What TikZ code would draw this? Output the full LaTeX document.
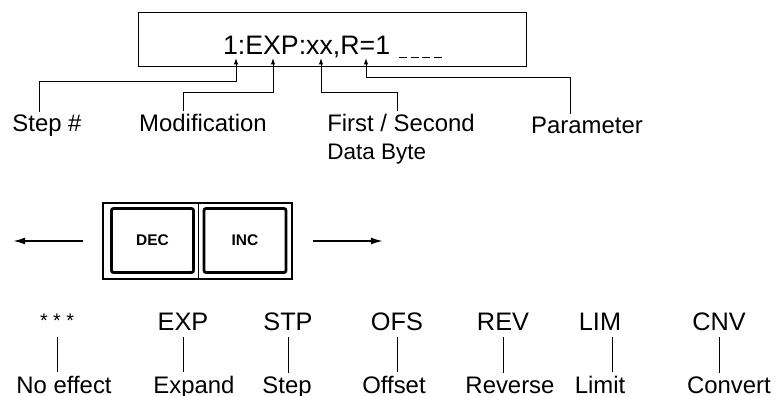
\documentclass[tikz,border=0pt]{standalone}
\usepackage{fontspec}
\setmainfont{Liberation Sans}
\usetikzlibrary{positioning,arrows.meta,calc}
\newcommand{\slotdash}{\rule[-0.12em]{0.3em}{0.06em}\hspace{0.13em}}

\begin{document}
\begin{tikzpicture}[x=0.025cm, y=0.025cm, line width=0.7pt,
  screen/.style={draw, line width=1pt, minimum width=9.7cm, minimum height=1.35cm, inner sep=0pt, text height=25pt, text depth=3pt, font=\fontsize{19}{22}\selectfont},
  lab/.style={anchor=base, inner sep=2pt, font=\fontsize{17}{20}\selectfont},
  key/.style={draw, line width=2pt, rounded corners=1.5pt, minimum width=2.05cm, minimum height=1.6cm, font=\bfseries\fontsize{11}{13}\selectfont},
  panel/.style={draw, line width=1.2pt, minimum width=4.73cm, minimum height=1.9cm},
  code/.style={anchor=base, inner xsep=2pt, inner ysep=4pt, font=\fontsize{18}{21}\selectfont},
  desc/.style={lab},
  arr/.style={-{Latex[length=1.6mm,width=1.1mm]}},
  bigarr/.style={-{Latex[length=3mm,width=1.7mm]}, line width=1.2pt}]
\useasboundingbox (0,0) rectangle (779,396);
% readout and its fields
\node[screen] (lcd) at (332.5,356.5) {1:EXP:xx,R=1\hspace{0.35em}\slotdash\slotdash\slotdash\slotdash};
\coordinate (tip1) at (236,338);
\coordinate (tip2) at (273,338);
\coordinate (tip3) at (321,338);
\coordinate (tip4) at (366,338);
\node[lab] (step) at (47,264) {Step \#};
\node[lab] (mod) at (203,264) {Modification};
\node[lab] (first) at (401,264) {First / Second};
\node[lab, font=\fontsize{16}{19}\selectfont, below=4pt of first.south west, anchor=north west] (byte) {Data Byte};
\node[lab] (param) at (587,262) {Parameter};
\draw[arr] ([xshift=-2mm]step.north) -- ++(0,31) -| (tip1);
\draw[arr] ([xshift=-5mm]mod.north) -- ++(0,19) -| (tip2);
\draw[arr] ([xshift=-1mm]first.north) -- ++(0,19) -| (tip3);
\draw[arr] ([xshift=-4.25mm]param.north) -- ++(0,37) -| (tip4);
% DEC / INC keys
\node[panel] (pad) at (197.5,155) {};
\node[key] (dec) at (152.5,155.5) {DEC};
\node[key] (inc) at (245,155.5) {INC};
\coordinate (split) at ($(dec.east)!.5!(inc.west)$);
\draw[line width=1pt] (split |- pad.north) -- (split |- pad.south);
\coordinate (decend) at (13,155);
\coordinate (incend) at (383,155);
\draw[bigarr] ([xshift=-4.75mm]pad.west) -- (decend);
\draw[bigarr] ([xshift=5mm]pad.east) -- (incend);
% modifications
\node[code] (none) at (57,65) {\raisebox{0.15em}{\fontsize{14}{16}\selectfont * * *}};
\node[code] (exp) at (183,65) {EXP};
\node[code] (stp) at (288,65) {STP};
\node[code] (ofs) at (397,65) {OFS};
\node[code] (rev) at (503,65) {REV};
\node[code] (lim) at (600,65) {LIM};
\node[code] (cnv) at (719,65) {CNV};
\node[desc] (noeffect) at (64,3) {No effect};
\node[desc] (expand) at (194,3) {Expand};
\node[desc] (steptext) at (287,3) {Step};
\node[desc] (offset) at (394,3) {Offset};
\node[desc] (reverse) at (510,3) {Reverse};
\node[desc] (limit) at (600,3) {Limit};
\node[desc] (convert) at (729,3) {Convert};
\draw[line width=0.6pt] (none.south) -- (none.south |- noeffect.north);
\draw[line width=0.6pt] (exp.south) -- (exp.south |- expand.north);
\draw[line width=0.6pt] (stp.south) -- (stp.south |- steptext.north);
\draw[line width=0.6pt] (ofs.south) -- (ofs.south |- offset.north);
\draw[line width=0.6pt] (rev.south) -- (rev.south |- reverse.north);
\draw[line width=0.6pt] ([xshift=3mm]lim.south) -- ([xshift=3mm]lim.south |- limit.north);
\draw[line width=0.6pt] (cnv.south) -- (cnv.south |- convert.north);
\end{tikzpicture}
\end{document}
